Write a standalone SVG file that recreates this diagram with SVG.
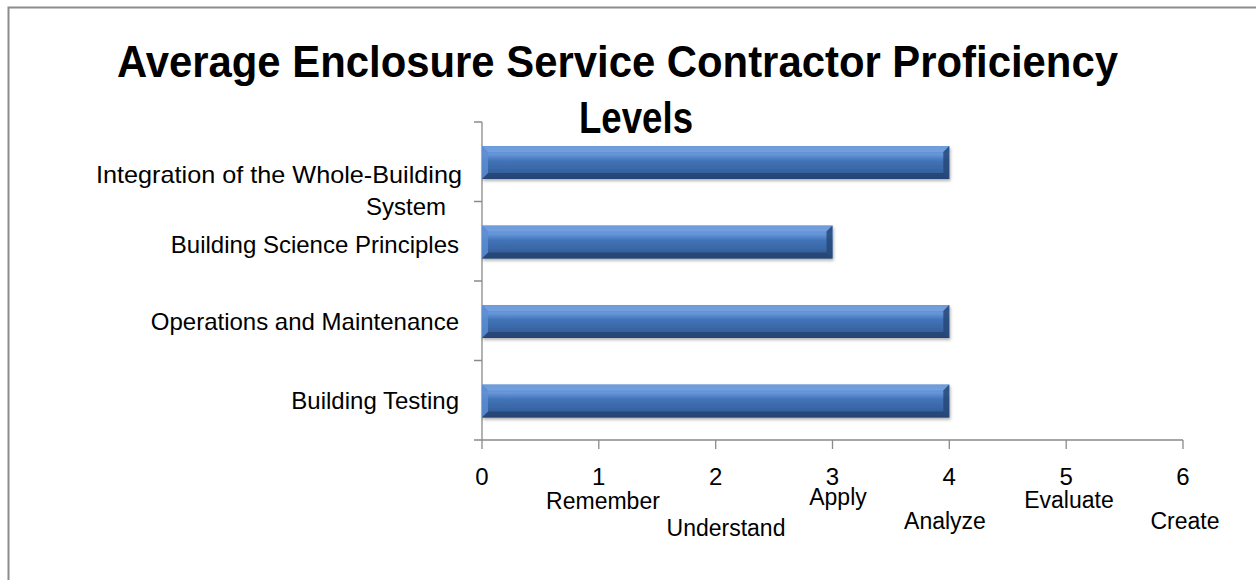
<svg xmlns="http://www.w3.org/2000/svg" width="1256" height="580" viewBox="0 0 1256 580">
<style>
.t{font-family:"Liberation Sans",Arial,sans-serif;font-size:24px;fill:#000}
.s{font-family:"Liberation Sans",Arial,sans-serif;font-size:23px;fill:#000}
.title{font-family:"Liberation Sans",Arial,sans-serif;font-size:44px;font-weight:bold;fill:#000}
.ax{stroke:#8a8a8a;stroke-width:1.3;fill:none}
.bv-t{fill:#7eaae6}
.bv-b{fill:#223f6b}
.bv-l{fill:#5f8fd3}
.bv-r{fill:#27497a}
</style>
<defs>
<linearGradient id="bar" x1="0" y1="0" x2="0" y2="1">
<stop offset="0" stop-color="#5484c8"/>
<stop offset="0.25" stop-color="#6797da"/>
<stop offset="0.45" stop-color="#4273b8"/>
<stop offset="0.75" stop-color="#3864a2"/>
<stop offset="1" stop-color="#2b538c"/>
</linearGradient>
<filter id="sh" x="-5%" y="-20%" width="110%" height="160%">
<feDropShadow dx="1" dy="2" stdDeviation="1.5" flood-color="#000" flood-opacity="0.3"/>
</filter>
</defs>
<rect width="1256" height="580" fill="#fff"/>
<path d="M8.5,580 V7.5 H1256" fill="none" stroke="#8c8c8c" stroke-width="2"/>
<g id="title">
<text class="title" x="117" y="77" textLength="1001" lengthAdjust="spacingAndGlyphs">Average Enclosure Service Contractor Proficiency</text>
<text class="title" x="579" y="133" textLength="114" lengthAdjust="spacingAndGlyphs">Levels</text>
</g>
<g id="axes">
<path class="ax" d="M482,122 V440 H1183"/>
<path class="ax" d="M474,122 H482 M474,201.5 H482 M474,281 H482 M474,360.5 H482 M474,440 H482"/>
<path class="ax" d="M482,440 V449 M598.8,440 V449 M715.7,440 V449 M832.5,440 V449 M949.3,440 V449 M1066.2,440 V449 M1183,440 V449"/>
</g>
<g id="category-labels">
<text class="t" x="462" y="183" text-anchor="end" textLength="366" lengthAdjust="spacingAndGlyphs">Integration of the Whole-Building</text>
<text class="t" x="406" y="215" text-anchor="middle">System</text>
<text class="t" x="459" y="253" text-anchor="end">Building Science Principles</text>
<text class="t" x="459" y="330" text-anchor="end">Operations and Maintenance</text>
<text class="t" x="459" y="409" text-anchor="end">Building Testing</text>
</g>
<g id="value-labels">
<text class="t" x="482" y="485" text-anchor="middle">0</text>
<text class="t" x="598.8" y="485" text-anchor="middle">1</text>
<text class="t" x="715.7" y="485" text-anchor="middle">2</text>
<text class="t" x="832.5" y="485" text-anchor="middle">3</text>
<text class="t" x="949.3" y="485" text-anchor="middle">4</text>
<text class="t" x="1066.2" y="485" text-anchor="middle">5</text>
<text class="t" x="1183" y="485" text-anchor="middle">6</text>
<text class="s" x="603" y="509" text-anchor="middle">Remember</text>
<text class="s" x="726" y="536" text-anchor="middle">Understand</text>
<text class="s" x="838" y="505" text-anchor="middle">Apply</text>
<text class="s" x="945" y="529" text-anchor="middle">Analyze</text>
<text class="s" x="1069" y="508" text-anchor="middle">Evaluate</text>
<text class="s" x="1185" y="529" text-anchor="middle">Create</text>
</g>
<g id="bar-integration" filter="url(#sh)">
<rect x="482" y="146" width="467.3" height="33" fill="url(#bar)"/>
<polygon class="bv-t" points="482,146 949.3,146 943.3,152 488,152" opacity="0.6"/>
<polygon class="bv-b" points="482,179 949.3,179 943.3,173 488,173" opacity="0.7"/>
<polygon class="bv-l" points="482,146 488,152 488,173 482,179" opacity="0.8"/>
<polygon class="bv-r" points="949.3,146 943.3,152 943.3,173 949.3,179" opacity="0.85"/>
</g>
<g id="bar-science" filter="url(#sh)">
<rect x="482" y="225.5" width="350.5" height="33" fill="url(#bar)"/>
<polygon class="bv-t" points="482,225.5 832.5,225.5 826.5,231.5 488,231.5" opacity="0.6"/>
<polygon class="bv-b" points="482,258.5 832.5,258.5 826.5,252.5 488,252.5" opacity="0.7"/>
<polygon class="bv-l" points="482,225.5 488,231.5 488,252.5 482,258.5" opacity="0.8"/>
<polygon class="bv-r" points="832.5,225.5 826.5,231.5 826.5,252.5 832.5,258.5" opacity="0.85"/>
</g>
<g id="bar-operations" filter="url(#sh)">
<rect x="482" y="305" width="467.3" height="33" fill="url(#bar)"/>
<polygon class="bv-t" points="482,305 949.3,305 943.3,311 488,311" opacity="0.6"/>
<polygon class="bv-b" points="482,338 949.3,338 943.3,332 488,332" opacity="0.7"/>
<polygon class="bv-l" points="482,305 488,311 488,332 482,338" opacity="0.8"/>
<polygon class="bv-r" points="949.3,305 943.3,311 943.3,332 949.3,338" opacity="0.85"/>
</g>
<g id="bar-testing" filter="url(#sh)">
<rect x="482" y="384.5" width="467.3" height="33" fill="url(#bar)"/>
<polygon class="bv-t" points="482,384.5 949.3,384.5 943.3,390.5 488,390.5" opacity="0.6"/>
<polygon class="bv-b" points="482,417.5 949.3,417.5 943.3,411.5 488,411.5" opacity="0.7"/>
<polygon class="bv-l" points="482,384.5 488,390.5 488,411.5 482,417.5" opacity="0.8"/>
<polygon class="bv-r" points="949.3,384.5 943.3,390.5 943.3,411.5 949.3,417.5" opacity="0.85"/>
</g>
</svg>
